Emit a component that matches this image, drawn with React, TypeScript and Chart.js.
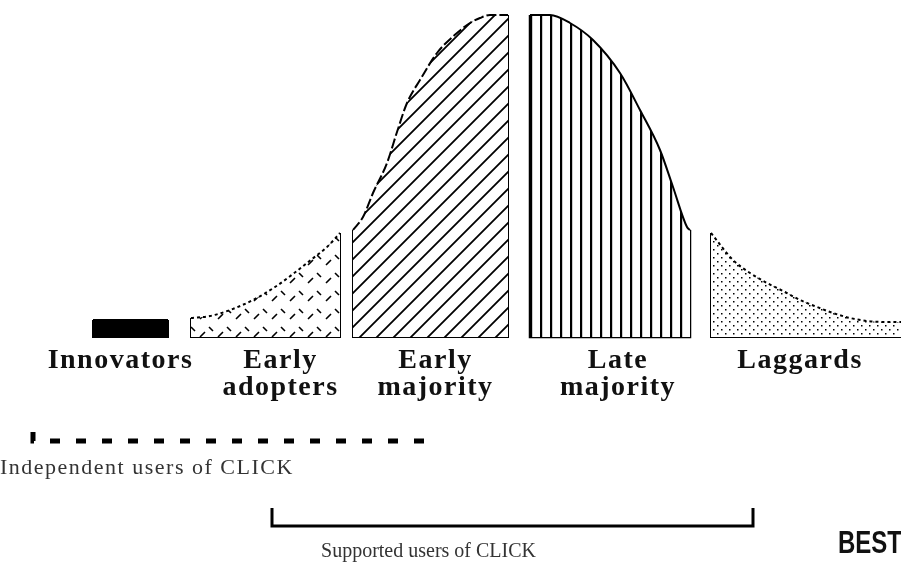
import React, { useEffect, useRef } from "react";
import { Chart, registerables } from "chart.js";

Chart.register(...registerables);

// Adopter categories (label lines)
const categories: string[][] = [
  ["Innovators"],
  ["Early", "adopters"],
  ["Early", "majority"],
  ["Late", "majority"],
  ["Laggards"],
];

// Curve segments: x positions along the adoption axis, heights of the curve
const innovatorsX = [93, 168];
const innovatorsH = [17, 17];

const earlyAdoptersX = [191, 210, 230, 253, 275, 293, 312, 327, 340];
const earlyAdoptersH = [19, 21, 27, 37, 50, 63, 78, 90, 104];

const earlyMajorityX = [353, 363, 373, 387, 397, 407, 420, 437, 457, 470, 480, 490, 508];
const earlyMajorityH = [107, 120, 144, 174, 205, 234, 257, 284, 304, 314, 319, 322, 322];

const lateMajorityX = [530, 550, 570, 593, 620, 640, 660, 673, 687, 690];
const lateMajorityH = [322, 322, 314, 297, 264, 227, 187, 150, 110, 107];

const laggardsX = [711, 733, 750, 767, 785, 800, 817, 833, 850, 867, 885, 901];
const laggardsH = [104, 77, 64, 54, 45, 37, 30, 24, 19, 16, 15, 15];

// Brackets below the curve
const independentRange = [33, 425];
const supportedRange = [272, 753];
const bracketLabels = ["Independent users of CLICK", "Supported users of CLICK"];
const stampText = "BEST";

function makePattern(kind: string): CanvasPattern | string {
  const c = document.createElement("canvas");
  const size = kind === "cross" ? 18 : kind === "diag" ? 17 : kind === "vert" ? 10 : 8;
  c.width = size;
  c.height = size;
  const g = c.getContext("2d");
  if (!g) return "#fff";
  g.fillStyle = "#fff";
  g.fillRect(0, 0, size, size);
  g.strokeStyle = "#000";
  g.fillStyle = "#000";
  if (kind === "cross") {
    g.lineWidth = 1.6;
    g.beginPath();
    g.moveTo(2, 13);
    g.lineTo(7, 8);
    g.moveTo(11, 3);
    g.lineTo(15, 7);
    g.stroke();
  } else if (kind === "diag") {
    g.lineWidth = 1.8;
    g.beginPath();
    g.moveTo(-1, size + 1);
    g.lineTo(size + 1, -1);
    g.moveTo(-2, 2);
    g.lineTo(2, -2);
    g.moveTo(size - 2, size + 2);
    g.lineTo(size + 2, size - 2);
    g.stroke();
  } else if (kind === "vert") {
    g.fillRect(0, 0, 2.2, size);
  } else {
    g.fillRect(1, 1, 1.5, 1.5);
    g.fillRect(5, 5, 1.5, 1.5);
  }
  return g.createPattern(c, "repeat") || "#fff";
}

function curve(xs: number[], hs: number[], bg: any, dash: number[]) {
  return {
    data: xs.map((x, i) => ({ x, y: hs[i] })),
    backgroundColor: bg,
    borderColor: "#000",
    borderWidth: 2,
    borderDash: dash,
    fill: "origin",
    cubicInterpolationMode: "monotone",
    pointRadius: 0,
  };
}

function frame(xs: number[], hs: number[], width = 2) {
  const n = xs.length - 1;
  return {
    data: [
      { x: xs[0], y: hs[0] },
      { x: xs[0], y: 0 },
      { x: xs[n], y: 0 },
      { x: xs[n], y: hs[n] },
    ],
    borderColor: "#000",
    borderWidth: width,
    fill: false,
    tension: 0,
    pointRadius: 0,
  };
}

function bracket(range: number[], level: number, tick: number, width: number, dash: number[]) {
  return {
    data: [
      { x: range[0], y: level + tick },
      { x: range[0], y: level },
      { x: range[1], y: level },
      { x: range[1], y: level + tick },
    ],
    borderColor: "#000",
    borderWidth: width,
    borderDash: dash,
    borderCapStyle: "butt",
    borderJoinStyle: "miter",
    fill: false,
    tension: 0,
    pointRadius: 0,
  };
}

export default function App() {
  const ref = useRef<HTMLCanvasElement>(null);

  useEffect(() => {
    if (!ref.current) return;
    const segX = [innovatorsX, earlyAdoptersX, earlyMajorityX, lateMajorityX, laggardsX];
    const labelShift = [-10, 15, 5, 8, -6];

    const textPlugin = {
      id: "texts",
      afterDatasetsDraw(chart: any) {
        const ctx = chart.ctx;
        const xs = chart.scales.x;
        const ys = chart.scales.y;
        ctx.save();
        ctx.fillStyle = "#111";
        ctx.textAlign = "center";
        ctx.textBaseline = "alphabetic";
        ctx.font = 'bold 28px "Liberation Serif", "DejaVu Serif", serif';
        (ctx as any).letterSpacing = "1.5px";
        categories.forEach((lines, i) => {
          const arr = segX[i];
          const cx = (xs.getPixelForValue(arr[0]) + xs.getPixelForValue(arr[arr.length - 1])) / 2 + labelShift[i];
          lines.forEach((t, j) => {
            ctx.fillText(t, cx, ys.getPixelForValue(-31 - j * 27));
          });
        });
        ctx.fillStyle = "#333";
        ctx.font = '22px "Liberation Serif", "DejaVu Serif", serif';
        (ctx as any).letterSpacing = "1.5px";
        ctx.textAlign = "left";
        ctx.fillText(bracketLabels[0], xs.getPixelForValue(independentRange[0]) - 33, ys.getPixelForValue(-137));
        (ctx as any).letterSpacing = "0px";
        ctx.textAlign = "center";
        ctx.font = '20px "Liberation Serif", "DejaVu Serif", serif';
        ctx.fillText(
          bracketLabels[1],
          (xs.getPixelForValue(supportedRange[0]) + xs.getPixelForValue(supportedRange[1])) / 2 - 84,
          ys.getPixelForValue(-220)
        );
        ctx.fillStyle = "#111";
        ctx.textAlign = "left";
        ctx.font = 'bold 32px "Liberation Sans", Arimo, sans-serif';
        ctx.translate(xs.getPixelForValue(838), ys.getPixelForValue(-216));
        ctx.scale(0.75, 1);
        ctx.fillText(stampText, 0, 0);
        ctx.restore();
      },
    };

    const chart = new Chart(ref.current, {
      type: "line",
      data: {
        datasets: [
          curve(innovatorsX, innovatorsH, "#000", []),
          frame(innovatorsX, innovatorsH),
          curve(earlyAdoptersX, earlyAdoptersH, makePattern("cross"), [3, 3]),
          frame(earlyAdoptersX, earlyAdoptersH),
          curve(earlyMajorityX, earlyMajorityH, makePattern("diag"), [10, 3]),
          frame(earlyMajorityX, earlyMajorityH),
          curve(lateMajorityX, lateMajorityH, makePattern("vert"), []),
          frame(lateMajorityX, lateMajorityH, 2.5),
          curve(laggardsX, laggardsH, makePattern("dots"), [3, 3]),
          frame(laggardsX, laggardsH),
          bracket(independentRange, -104, 9, 5, [10, 16]),
          bracket(supportedRange, -189, 18, 3, []),
        ] as any,
      },
      options: {
        responsive: false,
        animation: false,
        layout: { padding: 0 },
        plugins: { legend: { display: false }, tooltip: { enabled: false } },
        scales: {
          x: { type: "linear", min: 0, max: 901, display: false },
          y: { type: "linear", min: -229, max: 337, display: false },
        },
      },
      plugins: [textPlugin],
    });
    return () => chart.destroy();
  }, []);

  return (
    <div style={{ position: "absolute", left: 0, top: 0, width: 901, height: 566, background: "#fff" }}>
      <canvas ref={ref} width={901} height={566} style={{ width: 901, height: 566, display: "block" }} />
    </div>
  );
}
